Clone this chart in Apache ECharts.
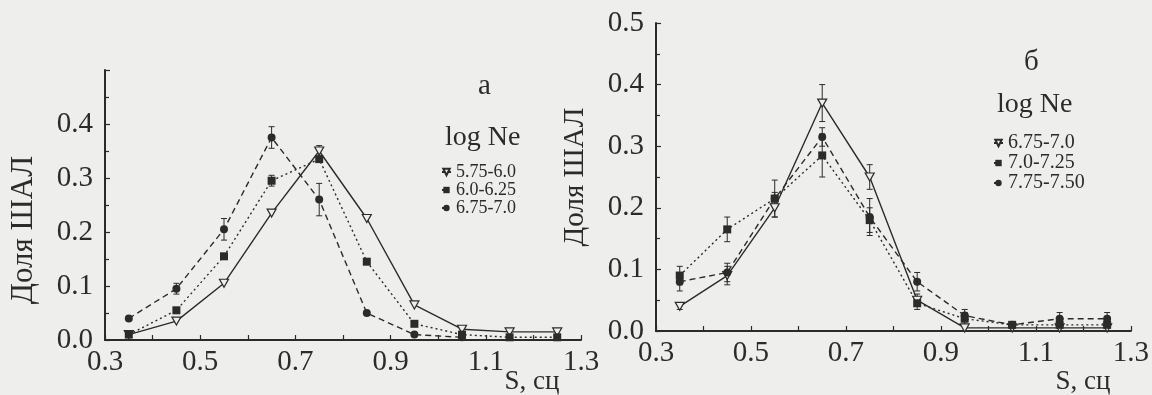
<!DOCTYPE html>
<html>
<head>
<meta charset="utf-8">
<script src="https://cdn.jsdelivr.net/npm/echarts@6/dist/echarts.min.js"></script>
<style>
  html, body { margin: 0; padding: 0; background: #eeeeec; }
  #chart { width: 1152px; height: 395px; }
</style>
</head>
<body>
<div id="chart"></div>
<script>
// S, сц bin centres (shared by both panels)
const sValues = [0.35, 0.45, 0.55, 0.65, 0.75, 0.85, 0.95, 1.05, 1.15, 1.25];

// panel а
const aNames = ['5.75-6.0', '6.0-6.25', '6.75-7.0'];
const aTri = [0.01, 0.035, 0.105, 0.235, 0.35, 0.225, 0.065, 0.02, 0.015, 0.015];
const aSq = [0.01, 0.055, 0.155, 0.295, 0.335, 0.145, 0.03, 0.01, 0.005, 0.005];
const aCirc = [0.04, 0.095, 0.205, 0.375, 0.26, 0.05, 0.01, 0.005];
const aTriErr = [0, 0, 0, 0, 0.01, 0, 0, 0.005, 0.005, 0.005];
const aSqErr = [0, 0, 0, 0.01, 0, 0, 0, 0, 0, 0];
const aCircErr = [0, 0.01, 0.02, 0.02, 0.03, 0, 0, 0];

// panel б
const bNames = ['6.75-7.0 ', '7.0-7.25', '7.75-7.50'];
const bTri = [0.04, 0.09, 0.2, 0.37, 0.25, 0.05, 0.005, 0.005, 0.005, 0.005];
const bSq = [0.09, 0.165, 0.215, 0.285, 0.18, 0.045, 0.02, 0.01, 0.01, 0.01];
const bCirc = [0.08, 0.095, 0.215, 0.315, 0.185, 0.08, 0.025, 0.01, 0.02, 0.02];
const bTriErr = [0.005, 0.015, 0.015, 0.03, 0.02, 0.01, 0, 0, 0, 0];
const bSqErr = [0.015, 0.02, 0.01, 0.035, 0.02, 0.01, 0.01, 0.005, 0.01, 0.01];
const bCircErr = [0.015, 0.015, 0.03, 0.015, 0.03, 0.015, 0.01, 0.005, 0.01, 0.01];

const FONT = 'Liberation Serif';
const INK = '#2b2b2b';
const BG = '#eeeeec';
const triDown = 'path://M0,0 L10,0 L5,9 Z';

const chart = echarts.init(document.getElementById('chart'));

const pts = (ys) => ys.map((y, i) => [sValues[i], y]);

function lineSeries(name, ys, idx, kind) {
  const base = {
    name, type: 'line', xAxisIndex: idx, yAxisIndex: idx, data: pts(ys),
    symbolSize: 8, z: 3,
    lineStyle: { color: INK, width: 1.4 },
    itemStyle: { color: INK }
  };
  if (kind === 'tri') {
    base.symbol = triDown; base.symbolSize = [9, 8];
    base.lineStyle.type = 'solid';
    base.itemStyle = { color: BG, borderColor: INK, borderWidth: 1.2 };
  } else if (kind === 'sq') {
    base.symbol = 'rect'; base.symbolSize = 8;
    base.lineStyle.type = [2, 3];
  } else {
    base.symbol = 'circle'; base.symbolSize = 8;
    base.lineStyle.type = [6, 4];
  }
  return base;
}

function errSeries(ys, errs, idx) {
  const data = [];
  ys.forEach((y, i) => { if (errs[i] > 0) data.push([sValues[i], y - errs[i], y + errs[i]]); });
  return {
    type: 'custom', xAxisIndex: idx, yAxisIndex: idx, z: 2, silent: true, data,
    renderItem: (params, api) => {
      const lo = api.coord([api.value(0), api.value(1)]);
      const hi = api.coord([api.value(0), api.value(2)]);
      const w = 3;
      const st = { stroke: INK, lineWidth: 1 };
      return {
        type: 'group', children: [
          { type: 'line', shape: { x1: lo[0], y1: lo[1], x2: hi[0], y2: hi[1] }, style: st },
          { type: 'line', shape: { x1: lo[0] - w, y1: lo[1], x2: lo[0] + w, y2: lo[1] }, style: st },
          { type: 'line', shape: { x1: hi[0] - w, y1: hi[1], x2: hi[0] + w, y2: hi[1] }, style: st }
        ]
      };
    }
  };
}

function xAxis(idx, gapName, padTop) {
  return {
    type: 'value', gridIndex: idx, min: 0.3, max: 1.3, interval: 0.2,
    name: 'S, сц', nameLocation: 'end', nameGap: gapName, nameMoveOverlap: false,
    nameTextStyle: { fontFamily: FONT, fontSize: 27, color: INK, align: 'center', verticalAlign: 'top', padding: [padTop, 0, 0, 0] },
    axisLine: { lineStyle: { color: INK, width: 2 } },
    axisTick: { inside: true, length: 5, lineStyle: { color: INK, width: 1.2 } },
    minorTick: { show: true, splitNumber: 2, length: 5, lineStyle: { color: INK, width: 1.2 } },
    splitLine: { show: false },
    axisLabel: { fontFamily: FONT, fontSize: 29, color: INK, margin: 8, formatter: v => v.toFixed(1) }
  };
}

function yAxis(idx, showMax, pad, size) {
  return {
    type: 'value', gridIndex: idx, min: 0, max: 0.5, interval: 0.1,
    name: 'Доля ШАЛ', nameLocation: 'middle', nameRotate: 90, nameGap: 66, nameMoveOverlap: false,
    nameTextStyle: { fontFamily: FONT, fontSize: size, color: INK, padding: pad },
    axisLine: { lineStyle: { color: INK, width: 2 } },
    axisTick: { inside: true, length: 5, lineStyle: { color: INK, width: 1.2 } },
    minorTick: { show: true, splitNumber: 2, length: 4, lineStyle: { color: INK, width: 1.2 } },
    splitLine: { show: false },
    axisLabel: { fontFamily: FONT, fontSize: 29, color: INK, margin: 12, showMaxLabel: showMax, formatter: v => v.toFixed(1) }
  };
}

const titleStyle = (size) => ({ fontFamily: FONT, fontSize: size, fontWeight: 'normal', color: INK });

chart.setOption({
  backgroundColor: BG,
  animation: false,
  title: [
    { text: 'а', left: 478, top: 72, padding: 0, textStyle: titleStyle(29) },
    { text: 'log Ne', left: 445, top: 124, padding: 0, textStyle: titleStyle(28) },
    { text: 'б', left: 1024, top: 48, padding: 0, textStyle: titleStyle(29) },
    { text: 'log Ne', left: 997, top: 91, padding: 0, textStyle: titleStyle(28) }
  ],
  legend: [
    {
      data: aNames, orient: 'vertical', left: 441, top: 163, padding: 0,
      itemWidth: 9, itemHeight: 8, itemGap: 0, selectedMode: false,
      textStyle: { fontFamily: FONT, fontSize: 18, lineHeight: 14.5, color: INK }
    },
    {
      data: bNames, orient: 'vertical', left: 993, top: 133, padding: 0,
      itemWidth: 9, itemHeight: 8, itemGap: 0, selectedMode: false,
      formatter: n => n.trim(),
      textStyle: { fontFamily: FONT, fontSize: 20, lineHeight: 14.5, color: INK }
    }
  ],
  grid: [
    { left: 105, top: 70, width: 476, height: 275 },
    { left: 656, top: 23, width: 480, height: 312 }
  ],
  xAxis: [xAxis(0, -49, 28), xAxis(1, -48, 37)],
  yAxis: [yAxis(0, false, [0, 50, 0, 0], 31), yAxis(1, true, 0, 29)],
  series: [
    lineSeries(aNames[0], aTri, 0, 'tri'),
    lineSeries(aNames[1], aSq, 0, 'sq'),
    lineSeries(aNames[2], aCirc, 0, 'circ'),
    errSeries(aTri, aTriErr, 0),
    errSeries(aSq, aSqErr, 0),
    errSeries(aCirc, aCircErr, 0),
    lineSeries(bNames[0], bTri, 1, 'tri'),
    lineSeries(bNames[1], bSq, 1, 'sq'),
    lineSeries(bNames[2], bCirc, 1, 'circ'),
    errSeries(bTri, bTriErr, 1),
    errSeries(bSq, bSqErr, 1),
    errSeries(bCirc, bCircErr, 1)
  ]
});

window.addEventListener('resize', () => chart.resize());
</script>
</body>
</html>
